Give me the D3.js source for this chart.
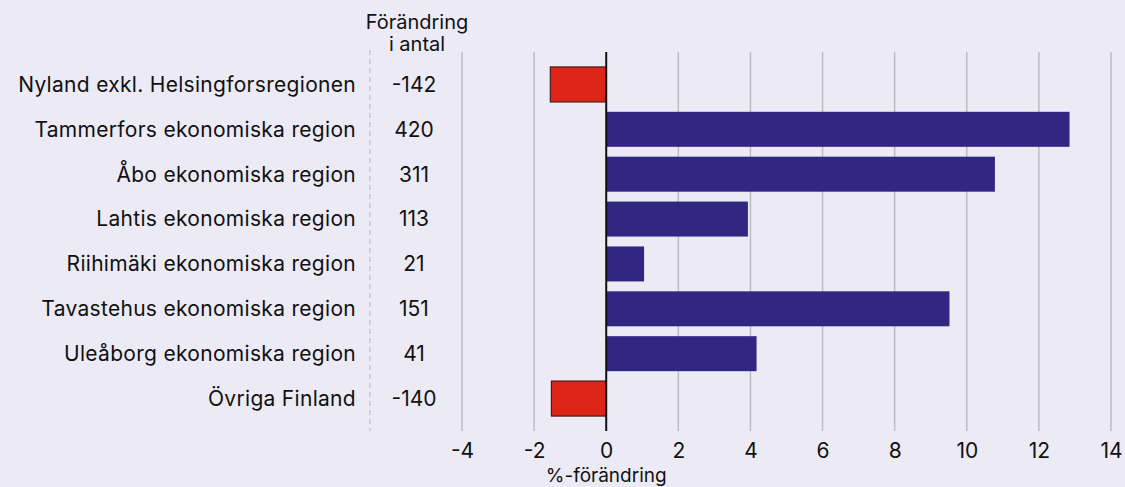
<!DOCTYPE html>
<html>
<head>
<meta charset="utf-8">
<script src="https://cdn.jsdelivr.net/npm/d3@7"></script>
<style>
  body { margin: 0; background: #eceaf5; }
  svg text { font-family: "Inter", sans-serif; fill: #111; }
</style>
</head>
<body>
<div id="chart"></div>
<script>
const regions = ["Nyland exkl. Helsingforsregionen", "Tammerfors ekonomiska region", "Åbo ekonomiska region",
  "Lahtis ekonomiska region", "Riihimäki ekonomiska region", "Tavastehus ekonomiska region",
  "Uleåborg ekonomiska region", "Övriga Finland"];
const pctChange = [-1.55, 12.85, 10.78, 3.93, 1.05, 9.52, 4.17, -1.52];
const counts = ["-142", "420", "311", "113", "21", "151", "41", "-140"];
const xTicks = [-4, -2, 0, 2, 4, 6, 8, 10, 12, 14];

const width = 1125, height = 487,
  margin = ({top: 52, right: 14, bottom: 56, left: 462});

const data = regions.map((r, i) => ({region: r, pct: pctChange[i], count: counts[i]}));

let svg = d3.select("#chart").append("svg")
  .attr("width", width).attr("height", height);

svg.append("rect").attr("width", width).attr("height", height).attr("fill", "#eceaf5");

let x = d3.scaleLinear()
  .domain([-4, 14])
  .range([462, 1111]);

let y = d3.scaleBand()
  .domain(regions)
  .range([62, 421])
  .paddingInner(0.22)
  .paddingOuter(0.11);

// gridlines
svg.append("g")
  .selectAll("line")
  .data(xTicks.filter(d => d != 0))
  .join("line")
  .attr("x1", d => x(d)).attr("x2", d => x(d))
  .attr("y1", margin.top).attr("y2", height - margin.bottom)
  .attr("stroke", "#bdbcc2")
  .attr("stroke-width", 1.5);

// dashed separator
svg.append("line")
  .attr("x1", 370).attr("x2", 370)
  .attr("y1", 50).attr("y2", height - margin.bottom)
  .attr("stroke", "#b5b4bb")
  .attr("stroke-dasharray", "5,4");

// bars
svg.append("g")
  .selectAll("rect")
  .data(data)
  .join("rect")
  .attr("x", d => x(Math.min(0, d.pct)))
  .attr("y", d => y(d.region))
  .attr("width", d => Math.abs(x(d.pct) - x(0)))
  .attr("height", y.bandwidth())
  .attr("fill", d => d.pct < 0 ? "#dc2516" : "#312782")
  .attr("stroke", d => d.pct < 0 ? "#4a1a1a" : "none")
  .attr("stroke-width", 1.2);

// zero line
svg.append("line")
  .attr("x1", x(0)).attr("x2", x(0))
  .attr("y1", margin.top).attr("y2", height - margin.bottom)
  .attr("stroke", "#111")
  .attr("stroke-width", 2);

// x axis labels
svg.append("g")
  .attr("transform", `translate(0,${height - margin.bottom + 12})`)
  .call(d3.axisBottom(x).tickValues(xTicks).tickSize(0).tickPadding(0))
  .call(g => g.select(".domain").remove())
  .call(g => g.selectAll("text")
    .attr("font-size", 21)
    .attr("font-family", "Inter, sans-serif")
    .attr("fill", "#111")
    .text(d => d < 0 ? "-" + Math.abs(d) : d));

svg.append("text")
  .attr("x", x(0)).attr("y", 482)
  .attr("text-anchor", "middle")
  .attr("font-size", 19)
  .text("%-förändring");

// region labels
svg.append("g")
  .selectAll("text")
  .data(data)
  .join("text")
  .attr("x", 356)
  .attr("y", d => y(d.region) + y.bandwidth() / 2)
  .attr("dy", "0.35em")
  .attr("text-anchor", "end")
  .attr("font-size", 21)
  .attr("letter-spacing", 0.3)
  .text(d => d.region);

// counts
svg.append("g")
  .selectAll("text")
  .data(data)
  .join("text")
  .attr("x", 414)
  .attr("y", d => y(d.region) + y.bandwidth() / 2)
  .attr("dy", "0.35em")
  .attr("text-anchor", "middle")
  .attr("font-size", 21)
  .text(d => d.count);

// column header
svg.append("text")
  .attr("x", 417).attr("y", 29)
  .attr("text-anchor", "middle")
  .attr("font-size", 20)
  .text("Förändring");
svg.append("text")
  .attr("x", 417).attr("y", 51)
  .attr("text-anchor", "middle")
  .attr("font-size", 20)
  .text("i antal");
</script>
</body>
</html>
